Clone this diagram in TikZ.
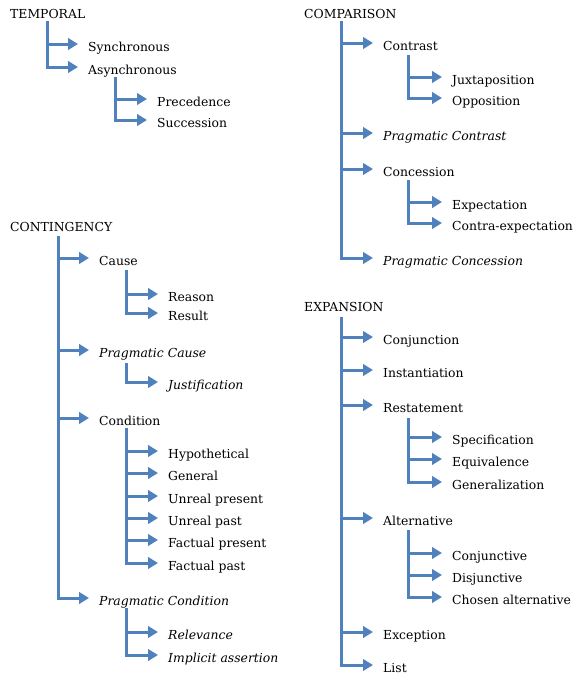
\documentclass[tikz,border=0pt]{standalone}
\usepackage{fontspec}
\setmainfont{DejaVu Serif}
\usetikzlibrary{arrows.meta}
\definecolor{lnk}{RGB}{79,129,189}
\begin{document}
\begin{tikzpicture}[x=1pt,y=-1pt,
  lbl/.style={anchor=base west, inner sep=0pt, text height=14pt, text depth=0pt, font=\fontsize{12.4}{14}\selectfont},
  itl/.style={lbl, font=\fontsize{12.4}{14}\selectfont\itshape},
  conn/.style={draw=lnk, line width=3pt, -{Triangle[length=10pt,width=11.5pt]}},
]
\useasboundingbox (0,0) rectangle (576,675);
% ---------------- TEMPORAL ----------------
\node[lbl] (temporal) at (10,18) {TEMPORAL};
\coordinate (vT) at (47,21);
\node[lbl] (syn) at (88,51) {Synchronous};
\node[lbl] (asy) at (88,74) {Asynchronous};
\coordinate (vA) at (115,77);
\node[lbl] (pre) at (157,106) {Precedence};
\node[lbl] (suc) at (157,127) {Succession};
\draw[conn] (vT |- syn.west) -- ([xshift=-10pt]syn.west);
\draw[conn] (vT) |- ([xshift=-10pt]asy.west);
\draw[conn] (vA |- pre.west) -- ([xshift=-10pt]pre.west);
\draw[conn] (vA) |- ([xshift=-10pt]suc.west);
% ---------------- CONTINGENCY ----------------
\node[lbl] (contingency) at (10,231) {CONTINGENCY};
\coordinate (vC) at (58,236);
\node[lbl] (cause) at (99,265) {Cause};
\coordinate (vCa) at (126,270);
\node[lbl] (reason) at (168,301) {Reason};
\node[lbl] (result) at (168,320) {Result};
\node[itl] (pcause) at (99,357) {Pragmatic Cause};
\coordinate (vPC) at (126,363);
\node[itl] (just) at (168,389) {Justification};
\node[lbl] (cond) at (99,425) {Condition};
\coordinate (vCo) at (126,428);
\node[lbl] (hyp) at (168,458) {Hypothetical};
\node[lbl] (gen) at (168,480) {General};
\node[lbl] (urp) at (168,503) {Unreal present};
\node[lbl] (urpa) at (168,525) {Unreal past};
\node[lbl] (fpr) at (168,547) {Factual present};
\node[lbl] (fpa) at (168,570) {Factual past};
\node[itl] (pcond) at (99,605) {Pragmatic Condition};
\coordinate (vPCo) at (126,608);
\node[itl] (rel) at (168,639) {Relevance};
\node[itl] (impl) at (168,662) {Implicit assertion};
\draw[conn] (vC |- cause.west) -- ([xshift=-10pt]cause.west);
\draw[conn] (vC |- pcause.west) -- ([xshift=-10pt]pcause.west);
\draw[conn] (vC |- cond.west) -- ([xshift=-10pt]cond.west);
\draw[conn] (vC) |- ([xshift=-10pt]pcond.west);
\draw[conn] (vCa |- reason.west) -- ([xshift=-10pt]reason.west);
\draw[conn] (vCa) |- ([xshift=-10pt]result.west);
\draw[conn] (vPC) |- ([xshift=-10pt]just.west);
\draw[conn] (vCo |- hyp.west) -- ([xshift=-10pt]hyp.west);
\draw[conn] (vCo |- gen.west) -- ([xshift=-10pt]gen.west);
\draw[conn] (vCo |- urp.west) -- ([xshift=-10pt]urp.west);
\draw[conn] (vCo |- urpa.west) -- ([xshift=-10pt]urpa.west);
\draw[conn] (vCo |- fpr.west) -- ([xshift=-10pt]fpr.west);
\draw[conn] (vCo) |- ([xshift=-10pt]fpa.west);
\draw[conn] (vPCo |- rel.west) -- ([xshift=-10pt]rel.west);
\draw[conn] (vPCo) |- ([xshift=-10pt]impl.west);
% ---------------- COMPARISON ----------------
\node[lbl] (comparison) at (304,18) {COMPARISON};
\coordinate (vCm) at (341,21);
\node[lbl] (contrast) at (383,50) {Contrast};
\coordinate (vCt) at (408,55);
\node[lbl] (juxt) at (452,84) {Juxtaposition};
\node[lbl] (opp) at (452,105) {Opposition};
\node[itl] (pcontrast) at (383,140) {Pragmatic Contrast};
\node[lbl] (conc) at (383,176) {Concession};
\coordinate (vCn) at (408,180);
\node[lbl] (expc) at (452,209) {Expectation};
\node[lbl] (cexp) at (452,230) {Contra-expectation};
\node[itl] (pconc) at (383,265) {Pragmatic Concession};
\draw[conn] (vCm |- contrast.west) -- ([xshift=-10pt]contrast.west);
\draw[conn] (vCm |- pcontrast.west) -- ([xshift=-10pt]pcontrast.west);
\draw[conn] (vCm |- conc.west) -- ([xshift=-10pt]conc.west);
\draw[conn] (vCm) |- ([xshift=-10pt]pconc.west);
\draw[conn] (vCt |- juxt.west) -- ([xshift=-10pt]juxt.west);
\draw[conn] (vCt) |- ([xshift=-10pt]opp.west);
\draw[conn] (vCn |- expc.west) -- ([xshift=-10pt]expc.west);
\draw[conn] (vCn) |- ([xshift=-10pt]cexp.west);
% ---------------- EXPANSION ----------------
\node[lbl] (expansion) at (304,311) {EXPANSION};
\coordinate (vE) at (341,317);
\node[lbl] (conj) at (383,344) {Conjunction};
\node[lbl] (inst) at (383,377) {Instantiation};
\node[lbl] (rest) at (383,412) {Restatement};
\coordinate (vR) at (408,418);
\node[lbl] (spec) at (452,444) {Specification};
\node[lbl] (equi) at (452,466) {Equivalence};
\node[lbl] (genz) at (452,489) {Generalization};
\node[lbl] (alt) at (383,525) {Alternative};
\coordinate (vAl) at (408,530);
\node[lbl] (cjv) at (452,560) {Conjunctive};
\node[lbl] (djv) at (452,582) {Disjunctive};
\node[lbl] (cho) at (452,604) {Chosen alternative};
\node[lbl] (exc) at (383,639) {Exception};
\node[lbl] (lst) at (383,672) {List};
\draw[conn] (vE |- conj.west) -- ([xshift=-10pt]conj.west);
\draw[conn] (vE |- inst.west) -- ([xshift=-10pt]inst.west);
\draw[conn] (vE |- rest.west) -- ([xshift=-10pt]rest.west);
\draw[conn] (vE |- alt.west) -- ([xshift=-10pt]alt.west);
\draw[conn] (vE |- exc.west) -- ([xshift=-10pt]exc.west);
\draw[conn] (vE) |- ([xshift=-10pt]lst.west);
\draw[conn] (vR |- spec.west) -- ([xshift=-10pt]spec.west);
\draw[conn] (vR |- equi.west) -- ([xshift=-10pt]equi.west);
\draw[conn] (vR) |- ([xshift=-10pt]genz.west);
\draw[conn] (vAl |- cjv.west) -- ([xshift=-10pt]cjv.west);
\draw[conn] (vAl |- djv.west) -- ([xshift=-10pt]djv.west);
\draw[conn] (vAl) |- ([xshift=-10pt]cho.west);
\end{tikzpicture}
\end{document}
